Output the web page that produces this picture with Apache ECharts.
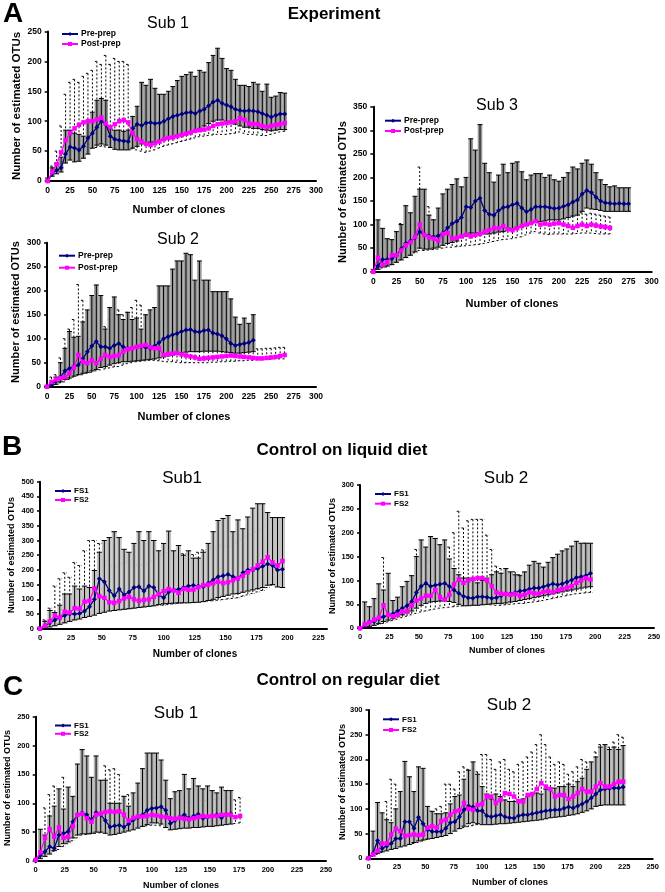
<!DOCTYPE html>
<html><head><meta charset="utf-8">
<script src="https://cdn.jsdelivr.net/npm/echarts@6/dist/echarts.min.js"></script>
<style>html,body{margin:0;padding:0;background:#fff}#c{width:665px;height:892px}</style>
</head><body><div id="c"></div><script>
// ---------- x positions (number of clones) ----------
const A_CLONES = [0,5,10,15,20,25,30,35,40,45,50,55,60,65,70,75,80,85,90,95,100,105,110,115,120,125,130,135,140,145,150,155,160,165,170,175,180,185,190,195,200,205,210,215,220,225,230,235,240,245,250,255,260,265,270,275];
const BC_CLONES = [0,4,8,12,16,20,24,28,32,36,40,44,48,52,56,60,64,68,72,76,80,84,88,92,96,100,104,108,112,116,120,124,128,132,136,140,144,148,152,156,160,164,168,172,176,180,184,188,192,196,200,204,208,212,216,220,224];

// ---------- A: Experiment, Sub 1 ----------
const A1_PRE    = [0,12,18,22,45,57,55,52,58,72,80,90,100,95,75,70,68,67,66,88,95,93,97,98,96,97,100,104,108,110,112,114,115,113,117,120,126,132,135,130,127,124,120,118,117,118,117,116,113,110,107,110,112,112];
const A1_PRE_HI = [5,22,30,40,85,85,80,78,75,100,115,135,138,135,87,85,85,83,85,108,125,165,160,170,155,145,145,150,158,168,175,178,182,175,185,182,198,210,222,205,188,185,170,160,160,158,165,162,150,162,140,142,148,147];
const A1_PRE_LO = [0,8,12,15,30,35,32,33,38,45,55,60,62,60,56,53,52,52,52,55,58,62,64,65,66,68,70,72,74,76,78,80,82,84,88,92,96,100,102,102,100,98,95,92,90,90,88,88,86,85,84,85,86,86];
const A1_POST    = [0,15,28,48,68,80,88,94,98,100,100,103,106,96,90,95,100,102,98,80,70,66,62,60,63,66,70,72,73,75,77,79,81,84,85,86,88,92,95,96,97,98,100,105,102,96,95,95,92,90,92,94,95,97];
const A1_POST_HI = [3,25,50,92,145,165,170,165,175,180,185,200,195,210,195,205,200,200,195,105,92,88,85,84,86,90,94,96,97,100,102,104,106,110,112,113,115,120,124,125,126,127,130,135,132,124,123,123,120,117,119,121,122,125];
const A1_POST_LO = [0,8,20,35,45,48,50,50,50,52,55,56,58,57,56,56,55,55,55,54,52,50,48,50,52,55,58,60,62,64,66,68,70,72,74,75,76,77,78,78,78,79,80,82,80,78,78,77,76,76,78,80,82,83];

// ---------- A: Experiment, Sub 2 ----------
const A2_PRE    = [0,5,12,20,33,38,42,45,58,73,85,94,83,83,80,86,90,83,80,80,83,83,82,80,85,92,100,104,108,111,115,118,119,115,114,117,118,112,110,106,100,90,86,88,90,92,97];
const A2_PRE_HI = [2,8,20,50,80,115,103,105,135,160,190,212,190,120,165,187,150,140,155,140,143,120,150,160,165,210,210,210,245,262,262,278,275,222,262,222,222,198,198,198,198,183,145,130,143,132,150];
const A2_PRE_LO = [0,2,5,10,15,18,22,25,28,30,33,36,40,42,45,48,50,52,52,53,54,55,56,57,58,60,62,64,66,68,70,72,73,73,73,74,74,74,74,73,72,71,70,70,71,72,73];
const A2_POST    = [0,10,15,18,20,28,40,66,52,49,55,49,58,66,62,64,66,73,78,80,83,85,87,82,80,80,66,68,69,70,67,65,63,61,58,59,60,61,62,63,64,65,64,63,62,61,60,59,59,60,61,62,64,66];
const A2_POST_HI = [2,20,25,60,100,120,140,213,180,120,100,105,110,125,140,178,160,150,155,165,180,170,130,115,108,100,95,92,90,90,88,86,85,84,83,82,82,82,82,82,82,82,82,81,80,80,80,79,79,80,80,81,82,82];
const A2_POST_LO = [0,2,5,8,10,15,20,23,25,28,30,33,35,37,39,41,42,45,48,50,52,53,54,55,55,54,53,52,52,51,50,50,50,50,50,50,50,51,51,52,52,53,53,54,54,55,55,56,56,57,57,58,58,58];

// ---------- A: Experiment, Sub 3 ----------
const A3_PRE    = [0,12,26,26,28,35,48,60,65,72,85,78,76,74,76,82,93,102,107,115,138,136,150,156,130,122,120,130,136,138,142,145,135,127,132,138,138,138,136,134,135,139,142,148,152,165,172,168,158,150,146,145,144,145,144,144];
const A3_PRE_HI = [5,110,92,70,68,85,100,140,125,160,175,175,120,110,135,165,175,185,197,180,200,282,258,312,230,210,190,205,228,210,230,233,212,195,205,208,208,200,205,195,192,200,210,222,218,230,237,228,210,195,185,180,182,178,178,178];
const A3_PRE_LO = [0,5,10,12,15,20,25,30,35,42,50,48,48,50,52,56,60,62,65,72,80,82,82,82,80,80,82,84,85,88,92,95,95,98,102,105,106,108,110,110,110,112,115,118,120,128,135,133,132,130,128,128,128,128,128,128];
const A3_POST    = [0,30,15,20,35,35,45,56,62,74,100,78,73,70,66,80,82,70,72,75,78,75,78,80,85,88,93,92,97,90,88,92,97,100,103,107,100,102,100,102,103,100,97,93,97,100,97,100,98,96,95,93];
const A3_POST_HI = [3,45,40,45,60,75,102,100,100,115,222,140,138,110,100,110,120,110,108,110,112,108,110,112,118,120,125,124,128,120,118,122,126,128,130,135,128,128,126,128,128,125,122,118,122,125,122,124,122,120,118,116];
const A3_POST_LO = [0,8,8,10,15,20,25,30,35,40,45,45,46,47,48,50,52,52,53,54,55,56,57,58,60,62,64,66,68,69,70,72,74,78,82,85,82,80,79,80,80,80,80,80,81,82,82,82,81,80,80,80];

// ---------- B: Control on liquid diet, Sub1 ----------
const B1_FS1    = [0,10,20,30,38,45,50,50,52,60,75,100,170,160,130,112,135,115,125,140,143,128,145,140,115,105,125,132,134,140,145,148,145,143,155,166,177,180,185,177,171,190,200,200,205,212,220,215,200,202];
const B1_FS1_HI = [5,25,62,55,80,118,118,145,135,145,140,198,260,300,310,330,310,270,260,290,330,300,330,300,265,290,332,265,283,250,265,240,240,260,290,330,368,375,385,330,370,340,380,410,425,425,395,378,378,378];
const B1_FS1_LO = [0,3,6,10,15,20,25,30,33,38,42,46,52,56,60,62,64,66,68,70,72,74,76,78,82,85,86,87,88,88,88,89,90,92,96,100,106,110,114,118,120,124,128,132,136,140,148,150,142,140];
const B1_FS2    = [0,10,25,45,38,58,55,70,68,92,95,137,110,105,90,88,94,103,108,100,95,98,100,108,118,128,135,130,122,135,132,133,141,148,150,154,160,155,158,165,171,180,192,202,215,228,243,225,215,230];
const B1_FS2_HI = [2,30,70,145,170,190,175,225,215,265,300,300,290,230,215,210,220,225,230,220,215,218,222,230,240,250,258,250,242,255,250,252,260,268,272,275,282,278,282,290,298,305,315,322,330,340,345,335,325,325];
const B1_FS2_LO = [0,3,8,12,16,20,25,30,35,40,45,50,55,58,62,65,66,67,68,70,72,74,76,78,80,80,82,84,86,88,90,91,92,93,94,95,97,99,101,103,105,110,115,120,125,130,140,148,152,155];

// ---------- B: Control on liquid diet, Sub 2 ----------
const B2_FS1    = [0,5,14,14,20,24,27,30,36,42,47,56,75,88,94,88,90,92,94,88,80,73,67,64,63,66,66,65,63,64,68,72,72,75,78,79,82,84,84,87,90,93,91,93,97,101,106,108,110,115];
const B2_FS1_HI = [3,55,45,62,93,80,115,58,65,87,98,110,150,185,170,192,188,175,185,145,125,112,105,105,100,95,100,105,112,118,115,125,118,112,110,118,132,140,136,128,138,148,155,162,166,172,182,178,178,178];
const B2_FS1_LO = [0,2,4,6,10,14,17,20,24,28,32,36,42,48,52,55,56,57,57,56,54,50,47,47,48,48,49,50,51,52,52,53,55,56,58,60,62,64,66,68,70,72,74,76,78,80,82,84,86,87];
const B2_FS2    = [0,8,12,18,22,48,28,25,28,35,35,48,58,62,68,68,80,65,60,70,92,102,95,100,103,105,105,100,88,75,72,72,70,72,68,70,75,73,72,76,78,75,80,82,85,88,95,100,105,102];
const B2_FS2_HI = [2,15,25,35,60,148,60,55,60,70,80,110,165,140,130,140,140,150,160,170,200,245,210,225,228,228,228,195,165,130,125,120,115,118,112,115,122,120,118,125,128,125,135,140,148,155,165,175,178,170];
const B2_FS2_LO = [0,2,4,6,8,10,13,16,19,22,25,28,31,34,36,38,40,42,43,44,45,46,47,48,49,50,50,50,49,48,48,49,50,51,52,52,54,55,56,58,60,62,64,66,68,70,72,73,74,75];

// ---------- C: Control on regular diet, Sub 1 ----------
const C1_FS1    = [0,10,16,25,22,45,48,51,68,80,83,80,71,84,80,70,59,61,62,59,64,71,75,80,88,91,92,94,88,65,70,76,80,74,78,81,74,76,78,80,75,80,82];
const C1_FS1_HI = [2,55,45,78,95,125,90,128,112,168,193,182,145,182,140,140,100,100,100,112,95,118,135,160,187,187,187,175,140,108,120,122,150,125,143,130,125,130,122,118,128,122,122];
const C1_FS1_LO = [0,4,8,12,18,25,30,33,40,45,47,47,48,50,50,48,45,46,48,50,52,54,57,60,63,66,66,64,58,54,55,56,57,57,58,58,59,60,60,61,62,63,64];
const C1_FS2    = [2,15,40,55,42,58,40,42,60,80,82,74,68,80,82,85,86,85,86,80,70,75,77,77,78,80,79,77,76,74,73,75,73,72,74,76,78,77,78,78,80,80,80,76,78];
const C1_FS2_HI = [3,40,92,115,130,118,145,120,105,110,115,110,105,110,115,165,158,160,150,112,115,110,108,108,110,112,110,108,106,104,102,104,102,100,102,104,106,105,106,106,108,110,110,106,110];
const C1_FS2_LO = [0,5,10,14,17,20,25,30,35,40,45,46,47,48,49,50,51,52,52,53,55,56,58,60,61,62,62,61,60,58,58,58,59,59,60,60,61,61,62,62,63,64,65,65,66];

// ---------- C: Control on regular diet, Sub 2 ----------
const C2_FS1    = [0,10,36,20,25,30,40,40,74,74,61,83,70,58,54,54,54,61,72,74,84,98,106,104,96,96,86,84,86,88,84,82,81,86,88,88,90,92,94,96,97,98,98,101,104,102,106,110,115,122,130,138,140,141,142,142,144];
const C2_FS1_HI = [2,55,113,92,78,72,100,135,196,165,135,185,182,105,95,90,90,92,110,125,128,160,178,195,170,145,130,120,130,125,118,115,115,118,120,125,130,132,130,140,142,142,145,145,150,145,155,162,180,195,205,225,230,220,225,220,228];
const C2_FS1_LO = [0,5,10,13,15,18,20,23,25,28,32,35,37,39,40,42,44,46,50,55,60,65,70,72,70,68,68,68,69,70,70,71,72,73,74,75,76,77,78,80,82,83,84,85,87,88,90,93,96,100,105,107,108,108,108,108,108];
const C2_FS2    = [0,8,15,30,30,48,60,55,45,47,48,47,48,62,65,62,75,78,88,95,97,112,100,98,108,110,125,125,112,118,132,130,125,115,115,128,130,140,152,145,140,125,128,128,120,125,132,140,135,135,145,152,145,145,150,155,155];
const C2_FS2_HI = [2,20,40,65,115,160,150,125,90,85,80,80,80,85,95,100,105,150,150,140,175,185,180,150,175,210,210,200,180,195,200,180,175,190,195,205,215,230,250,230,205,190,195,190,170,175,185,200,195,190,215,230,215,225,235,250,245];
const C2_FS2_LO = [0,4,8,12,16,20,22,24,26,28,30,32,35,38,41,45,48,51,54,57,60,62,64,66,68,70,71,72,73,74,75,76,77,78,79,82,84,85,86,88,90,91,92,93,95,98,100,102,104,106,108,110,111,112,113,114,115];

const A_NAMES = ['Pre-prep','Post-prep'];
const BC_NAMES = ['FS1','FS2'];
const X_TITLE = 'Number of clones';
const Y_TITLE = 'Number of estimated OTUs';

const PANELS = [
  {clones:A_CLONES, names:A_NAMES, s1:[A1_PRE,A1_PRE_LO,A1_PRE_HI], s2:[A1_POST,A1_POST_LO,A1_POST_HI], title:'Sub 1'},
  {clones:A_CLONES, names:A_NAMES, s1:[A2_PRE,A2_PRE_LO,A2_PRE_HI], s2:[A2_POST,A2_POST_LO,A2_POST_HI], title:'Sub 2'},
  {clones:A_CLONES, names:A_NAMES, s1:[A3_PRE,A3_PRE_LO,A3_PRE_HI], s2:[A3_POST,A3_POST_LO,A3_POST_HI], title:'Sub 3'},
  {clones:BC_CLONES, names:BC_NAMES, s1:[B1_FS1,B1_FS1_LO,B1_FS1_HI], s2:[B1_FS2,B1_FS2_LO,B1_FS2_HI], title:'Sub1'},
  {clones:BC_CLONES, names:BC_NAMES, s1:[B2_FS1,B2_FS1_LO,B2_FS1_HI], s2:[B2_FS2,B2_FS2_LO,B2_FS2_HI], title:'Sub 2'},
  {clones:BC_CLONES, names:BC_NAMES, s1:[C1_FS1,C1_FS1_LO,C1_FS1_HI], s2:[C1_FS2,C1_FS2_LO,C1_FS2_HI], title:'Sub 1'},
  {clones:BC_CLONES, names:BC_NAMES, s1:[C2_FS1,C2_FS1_LO,C2_FS1_HI], s2:[C2_FS2,C2_FS2_LO,C2_FS2_HI], title:'Sub 2'}
];

// ---------- layout (positions / sizes / styles) ----------
const LAYOUT = [
  {grid:{left:47.7,top:31.5,width:268.3,height:149.5}, xMax:300, yMax:250, tf:8.5, band:'#9a9a9a', lg:{left:61,top:29,gap:0,lh:10,fs:8.5},
   title:[168,24,16], xName:[179,210,11], yName:[16.5,106,11.5]},
  {grid:{left:47,top:242.7,width:269,height:144}, xMax:300, yMax:300, tf:8.5, band:'#9a9a9a', lg:{left:58,top:250.7,gap:2,lh:10,fs:8.5},
   title:[178,240,16], xName:[184,417,11], yName:[16,312,11]},
  {grid:{left:373.3,top:106.7,width:278.4,height:165}, xMax:300, yMax:350, tf:8.5, band:'#9a9a9a', lg:{left:384,top:115.7,gap:0.3,lh:10,fs:8.5},
   title:[497,106,16], xName:[512,304,11], yName:[343,192,11]},
  {grid:{left:40,top:481.7,width:287,height:147}, xMax:232, yMax:500, tf:7.5, band:'#c4c4c4', lg:{left:54,top:486.5,gap:0,lh:9,fs:8},
   title:[182,478,17], xName:[195,654,10], yName:[12,555,9]},
  {grid:{left:360,top:485,width:294,height:143.2}, xMax:250, yMax:300, tf:7.5, band:'#b4b4b4', lg:{left:374,top:489.5,gap:0.7,lh:9,fs:8},
   title:[506,478,17], xName:[507,651,9], yName:[333,556,9]},
  {grid:{left:35.7,top:716.7,width:290.3,height:144.3}, xMax:250, yMax:250, tf:7.5, band:'#b4b4b4', lg:{left:54,top:721.5,gap:0.3,lh:7,fs:8},
   title:[176,713,17], xName:[181,886,9], yName:[7.5,788,9]},
  {grid:{left:368.5,top:710,width:284.2,height:148.3}, xMax:250, yMax:300, tf:7.5, band:'#b4b4b4', lg:{left:382,top:714.8,gap:1.7,lh:9,fs:8},
   title:[509,705,17], xName:[510,883,9], yName:[343,782,9]}
];

const FF = '"Liberation Sans", Arial, sans-serif';
const C_S1 = '#000080', C_S2 = '#ff00ff';

// error bar glyph: vertical line with caps; solid bars get a grey band (as in the print)
function makeErr(dash, step, band){
  return function(params, api){
    const x = api.value(0), lo = api.value(1), hi = api.value(2);
    const a = api.coord([x, hi]), b = api.coord([x, lo]);
    const sp = api.size([step, 0])[0];
    const st = {stroke:'#000', lineWidth:1, lineDash: dash, fill:null};
    const w = band ? sp*0.55 : sp*0.45;
    const ch = [];
    if (band) ch.push({type:'rect', shape:{x:a[0]-sp/2, y:a[1], width:sp, height:b[1]-a[1]}, style:{fill:band, stroke:null}});
    ch.push({type:'line', shape:{x1:a[0],y1:a[1],x2:b[0],y2:b[1]}, style:st});
    ch.push({type:'line', shape:{x1:a[0]-w,y1:a[1],x2:a[0]+w,y2:a[1]}, style:st});
    ch.push({type:'line', shape:{x1:b[0]-w,y1:b[1],x2:b[0]+w,y2:b[1]}, style:st});
    return {type:'group', children:ch};
  };
}

function txt(x,y,text,size,bold,rot){
  return {type:'text', x:x, y:y, rotation:rot||0, silent:true, z:100,
    style:{text:text, fill:'#000', font:(bold?'bold ':'')+size+'px '+FF,
      align:'center', verticalAlign:'middle', textAlign:'center', textVerticalAlign:'middle'}};
}

const grids=[], xAxes=[], yAxes=[], series=[], legends=[], graphics=[];
PANELS.forEach(function(p,i){
  const L = LAYOUT[i];
  const step = p.clones[1]-p.clones[0];
  grids.push(Object.assign({containLabel:false}, L.grid));
  const lab = {fontSize:L.tf, fontWeight:'bold', color:'#000', fontFamily:FF};
  xAxes.push({type:'value', gridIndex:i, min:0, max:L.xMax, interval:25,
    axisLine:{show:true, onZero:false, lineStyle:{color:'#000', width:2}},
    axisTick:{show:false}, splitLine:{show:false},
    axisLabel:Object.assign({margin:5, formatter:function(v){return v%25===0?String(v):'';}}, lab)});
  yAxes.push({type:'value', gridIndex:i, min:0, max:L.yMax, interval:50,
    axisLine:{show:true, lineStyle:{color:'#000', width:2}},
    axisTick:{show:true, length:3, lineStyle:{color:'#000', width:1.5}}, splitLine:{show:false},
    axisLabel:Object.assign({margin:6}, lab)});
  // error bars
  series.push({type:'custom', xAxisIndex:i, yAxisIndex:i, silent:true, z:2, renderItem:makeErr([2,2], step, null),
    encode:{x:0, y:[1,2]},
    data:p.s2[0].map(function(_,j){return [p.clones[j], p.s2[1][j], p.s2[2][j]];})});
  series.push({type:'custom', xAxisIndex:i, yAxisIndex:i, silent:true, z:3, renderItem:makeErr(null, step, L.band),
    encode:{x:0, y:[1,2]},
    data:p.s1[0].map(function(_,j){return [p.clones[j], p.s1[1][j], p.s1[2][j]];})});
  // mean lines
  series.push({type:'line', name:p.names[0], xAxisIndex:i, yAxisIndex:i, z:5,
    symbol:'diamond', symbolSize:5, itemStyle:{color:C_S1}, lineStyle:{color:C_S1, width:1.3},
    data:p.s1[0].map(function(v,j){return [p.clones[j], v];})});
  series.push({type:'line', name:p.names[1], xAxisIndex:i, yAxisIndex:i, z:6,
    symbol:'rect', symbolSize:4.5, itemStyle:{color:C_S2}, lineStyle:{color:C_S2, width:1.3},
    data:p.s2[0].map(function(v,j){return [p.clones[j], v];})});
  legends.push({orient:'vertical', left:L.lg.left, top:L.lg.top, itemGap:L.lg.gap, itemWidth:16, itemHeight:5,
    padding:0, selectedMode:false, data:p.names,
    textStyle:{fontSize:L.lg.fs, fontWeight:'bold', color:'#000', fontFamily:FF, lineHeight:L.lg.lh, padding:[0,0,0,-2]}});
  graphics.push(txt(L.title[0], L.title[1], p.title, L.title[2], false));
  graphics.push(txt(L.xName[0], L.xName[1], X_TITLE, L.xName[2], true));
  graphics.push(txt(L.yName[0], L.yName[1], Y_TITLE, L.yName[2], true, Math.PI/2));
});

graphics.push(txt(13,14,'A',28,true));
graphics.push(txt(12,447,'B',28,true));
graphics.push(txt(13,687,'C',28,true));
graphics.push(txt(334,14,'Experiment',17,true));
graphics.push(txt(342,450,'Control on liquid diet',17,true));
graphics.push(txt(348,680,'Control on regular diet',17,true));

const chart = echarts.init(document.getElementById('c'), null, {renderer:'canvas'});
chart.setOption({
  animation:false, backgroundColor:'#fff',
  textStyle:{fontFamily:FF},
  grid:grids, xAxis:xAxes, yAxis:yAxes, series:series, legend:legends,
  graphic:{elements:graphics}
});
</script></body></html>
